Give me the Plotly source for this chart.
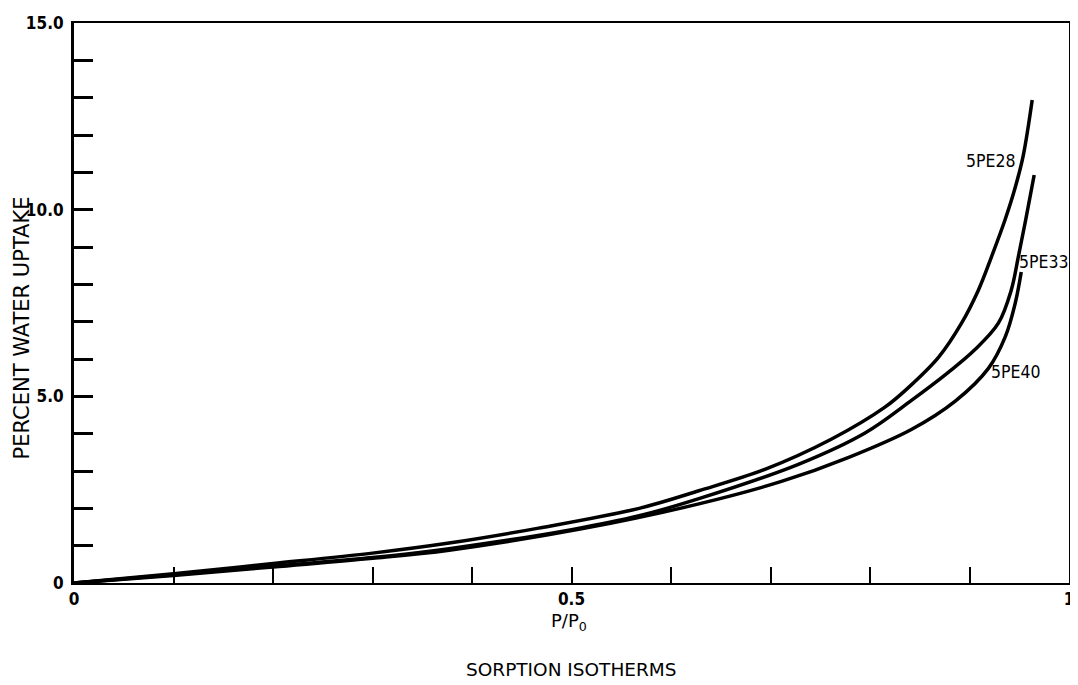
import plotly.graph_objects as go

# ---- data ----
pe28_x = [0, 0.1, 0.2, 0.3, 0.377, 0.467, 0.568, 0.628, 0.695, 0.761, 0.815, 0.838, 0.869, 0.892, 0.909, 0.922, 0.936, 0.946, 0.954, 0.963]
pe28_y = [0, 0.25, 0.52, 0.8, 1.07, 1.47, 2.0, 2.47, 3.05, 3.85, 4.71, 5.22, 6.05, 6.96, 7.85, 8.73, 9.75, 10.6, 11.45, 12.94]

pe33_x = [0, 0.1, 0.2, 0.3, 0.377, 0.5, 0.568, 0.628, 0.728, 0.795, 0.842, 0.879, 0.905, 0.929, 0.942, 0.949, 0.957, 0.965]
pe33_y = [0, 0.22, 0.45, 0.68, 0.92, 1.43, 1.8, 2.26, 3.18, 4.02, 4.9, 5.65, 6.24, 6.96, 7.85, 8.73, 9.8, 10.93]

pe40_x = [0, 0.1, 0.2, 0.3, 0.377, 0.51, 0.628, 0.711, 0.778, 0.842, 0.886, 0.919, 0.936, 0.946, 0.952]
pe40_y = [0, 0.2, 0.43, 0.66, 0.88, 1.45, 2.12, 2.72, 3.36, 4.12, 4.88, 5.75, 6.6, 7.5, 8.33]

series_names = ["5PE28", "5PE33", "5PE40"]
label_x = [0.921, 0.974, 0.946]
label_y = [11.3, 8.6, 5.65]

x_tick_vals = [0, 0.1, 0.2, 0.3, 0.4, 0.5, 0.6, 0.7, 0.8, 0.9, 1.0]
x_tick_text = ["0", "", "", "", "", "0.5", "", "", "", "", "1"]
y_tick_vals = list(range(0, 16))
y_tick_text = ["0", "", "", "", "", "5.0", "", "", "", "", "10.0", "", "", "", "", "15.0"]

NARROW = "Liberation Sans Narrow, DejaVu Sans Condensed, sans-serif"
WIDE = "DejaVu Sans, sans-serif"

fig = go.Figure()
for xs, ys, name in zip([pe28_x, pe33_x, pe40_x], [pe28_y, pe33_y, pe40_y], series_names):
    fig.add_trace(go.Scatter(x=xs, y=ys, mode="lines", name=name,
                             line=dict(color="black", width=3.5, shape="spline", smoothing=1.0),
                             showlegend=False, hoverinfo="skip"))

for nm, lx, ly in zip(series_names, label_x, label_y):
    fig.add_annotation(x=lx, y=ly, text=nm, showarrow=False,
                       font=dict(family=NARROW, size=17.5, color="black"))

fig.add_annotation(xref="paper", yref="paper", x=-0.052, y=0.455, xanchor="center", yanchor="middle",
                   text="PERCENT WATER UPTAKE", textangle=-90, showarrow=False,
                   font=dict(family=WIDE, size=21, color="black"))
fig.add_annotation(xref="paper", yref="paper", x=0.497, y=-0.045, xanchor="center", yanchor="top",
                   text="P/P<sub>0</sub>", showarrow=False,
                   font=dict(family=WIDE, size=18, color="black"))
fig.add_annotation(xref="paper", yref="paper", x=0.4995, y=-0.155, xanchor="center", yanchor="middle",
                   text="SORPTION ISOTHERMS", showarrow=False,
                   font=dict(family=WIDE, size=18.5, color="black"))

fig.update_xaxes(range=[0, 1], tickvals=x_tick_vals, ticktext=x_tick_text,
                 ticks="inside", ticklen=16, tickwidth=2, tickcolor="black",
                 showline=True, linecolor="black", linewidth=2, mirror=True,
                 showgrid=False, zeroline=False, automargin=False,
                 tickfont=dict(family=NARROW, size=17, color="black", weight="bold"))
fig.update_yaxes(range=[0, 15], tickvals=y_tick_vals, ticktext=y_tick_text,
                 ticks="inside", ticklen=19, tickwidth=2.5, tickcolor="black",
                 showline=True, linecolor="black", linewidth=3, mirror=True,
                 showgrid=False, zeroline=False, automargin=False, ticklabelstandoff=4,
                 tickfont=dict(family=NARROW, size=17, color="black", weight="bold"))

# page body adds an 8px margin, so the figure is sized to fit the window
fig.update_layout(width=1070, height=677, plot_bgcolor="white", paper_bgcolor="white",
                  margin=dict(l=66, r=9, t=15, b=102))

fig.write_html("out.html")
